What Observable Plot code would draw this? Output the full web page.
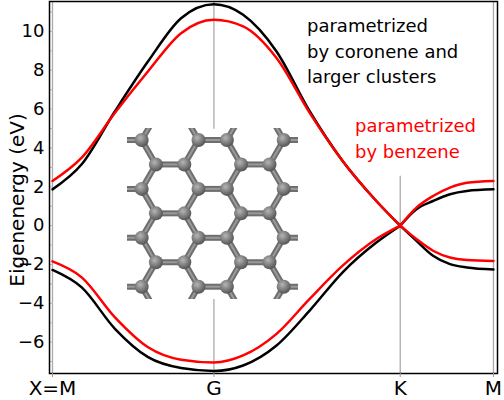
<!DOCTYPE html>
<html><head><meta charset="utf-8">
<script src="https://cdn.jsdelivr.net/npm/d3@7"></script>
<script src="https://cdn.jsdelivr.net/npm/@observablehq/plot@0.6"></script>
<style>body{margin:0;background:#fff}#c{position:relative;width:504px;height:400px}</style>
</head><body><div id="c"></div>
<script>
// k-path coordinate (M=0, G=1.155, K=2.488, M=3.155)
const kMGK = [0, 0.209, 0.447, 0.684, 0.920, 1.155, 1.364, 1.603, 1.840, 2.076, 2.317, 2.488];
const kKM = [2.488, 2.604, 2.723, 2.844, 2.965, 3.155];
const upperBlackMGK = [1.87, 3.16, 5.89, 8.46, 10.68, 11.4, 10.86, 8.97, 5.89, 3.33, 1.27, 0];
const upperRedMGK   = [2.30, 3.50, 5.81, 7.95, 9.91, 10.6, 10.26, 8.63, 5.81, 3.33, 1.27, 0];
const lowerBlackMGK = [-2.28, -3.18, -5.31, -6.77, -7.33, -7.48, -7.2, -6.17, -4.37, -2.4, -0.87, 0];
const lowerRedMGK   = [-1.84, -2.66, -4.72, -6.26, -6.9, -7.04, -6.68, -5.57, -3.77, -2.06, -0.69, 0];
const upperBlackKM = [0, 0.85, 1.27, 1.62, 1.79, 1.87];
const upperRedKM   = [0, 0.93, 1.53, 1.96, 2.21, 2.30];
const lowerBlackKM = [0, -0.78, -1.55, -1.98, -2.15, -2.25];
const lowerRedKM   = [0, -0.69, -1.29, -1.64, -1.77, -1.82];
const symK = [0, 1.155, 2.488, 3.155];
const symLabels = ["X=M", "G", "K", "M"];
const yTicks = [-6, -4, -2, 0, 2, 4, 6, 8, 10];

const rows = [];
function add(ks, es, color, id) { ks.forEach((k, i) => rows.push({k, e: es[i], color, id})); }
add(kMGK, upperBlackMGK, "black", "ub1"); add(kMGK, lowerBlackMGK, "black", "lb1");
add(kKM, upperBlackKM, "black", "ub2"); add(kKM, lowerBlackKM, "black", "lb2");
add(kMGK, upperRedMGK, "red", "ur1"); add(kMGK, lowerRedMGK, "red", "lr1");
add(kKM, upperRedKM, "red", "ur2"); add(kKM, lowerRedKM, "red", "lr2");

const grayRules = [
  {k: symK[0], y1: -7.61, y2: 11.54}, {k: symK[3], y1: -7.61, y2: 11.54},
  {k: symK[1], y1: 4.96, y2: 11.54}, {k: symK[1], y1: -7.61, y2: -3.8},
  {k: symK[2], y1: -7.61, y2: 2.55}
];
const minor = d3.range(-7, 12, 1);

const plot = Plot.plot({
  width: 504, height: 400,
  marginLeft: 49, marginRight: 7, marginTop: 1, marginBottom: 27,
  style: {fontFamily: "DejaVu Sans, sans-serif", fontSize: "18px", background: "white"},
  x: {domain: [-0.0214, 3.184], axis: null},
  y: {domain: [-7.61, 11.54], axis: null},
  marks: [
    Plot.ruleX(grayRules, {x: "k", y1: "y1", y2: "y2", stroke: "#aaa", strokeWidth: 1.3}),
    Plot.ruleY(minor, {y: d => d, x1: -0.0214, x2: 0.004, stroke: "#bbb"}),
    Plot.line(rows, {x: "k", y: "e", z: "id", stroke: d => d.color, strokeWidth: 2.5, curve: "monotone-x"}),
    Plot.frame({stroke: "black", strokeWidth: 1.5}),
    Plot.axisY(yTicks, {tickSize: 0, tickPadding: 5, fontSize: 18, label: null, fill: "black"}),
    Plot.axisX(symK, {tickSize: 4, tickFormat: (d, i) => symLabels[i], fontSize: 20, label: null, tickPadding: 3, stroke: "#999", fill: "black"})
  ]
});
document.getElementById("c").appendChild(plot);
const svg = d3.select(plot);

svg.append("text").attr("transform", "translate(24,200) rotate(-90)").attr("text-anchor", "middle")
  .attr("font-size", 20).attr("font-family", "DejaVu Sans, sans-serif").text("Eigenenergy (eV)");

const blackNote = ["parametrized", "by coronene and", "larger clusters"];
const redNote = ["parametrized", "by benzene"];
blackNote.forEach((t, i) => svg.append("text").attr("x", 307).attr("y", 32 + i * 25.5).attr("text-anchor", "start")
  .attr("font-size", 18).attr("font-family", "DejaVu Sans, sans-serif").attr("fill", "black").text(t));
redNote.forEach((t, i) => svg.append("text").attr("x", 355).attr("y", 132 + i * 25.5).attr("text-anchor", "start")
  .attr("font-size", 18).attr("font-family", "DejaVu Sans, sans-serif").attr("fill", "red").text(t));

// graphene inset (lattice indices: column unit = half bond, row unit = 1)
const x0 = 141.7, ux = 14.2, y0 = 140, uy = 24.45;
const atoms = [];
for (let r = 0; r < 7; r++) {
  const cols = r % 2 === 0 ? [0, 4, 6, 10] : [1, 3, 7, 9];
  cols.forEach(c => atoms.push([c, r]));
}
const bonds = [];
for (let r = 0; r < 7; r++) {
  if (r % 2 === 0) { bonds.push([4, r, 6, r]); bonds.push([0, r, -3, r]); bonds.push([10, r, 13, r]); }
  else { bonds.push([1, r, 3, r]); bonds.push([7, r, 9, r]); }
}
const pairs = [[0, 1], [4, 3], [6, 7], [10, 9]];
for (let r = 0; r < 7; r += 2) {
  pairs.forEach(([a, b]) => {
    if (r + 1 <= 6) bonds.push([a, r, b, r + 1]); else bonds.push([a, r, a + (b - a) * 0.6, r + 0.6]);
    if (r - 1 >= 0) bonds.push([a, r, b, r - 1]); else bonds.push([a, r, a + (b - a) * 0.6, r - 0.6]);
  });
}
const defs = svg.append("defs");
const grad = defs.append("radialGradient").attr("id", "ball").attr("cx", "40%").attr("cy", "35%").attr("r", "65%");
grad.append("stop").attr("offset", "0%").attr("stop-color", "#b5b5b5");
grad.append("stop").attr("offset", "100%").attr("stop-color", "#555");
const clip = defs.append("clipPath").attr("id", "mclip");
clip.append("rect").attr("x", 127).attr("y", 128).attr("width", 171).attr("height", 171);
const mg = svg.append("g").attr("clip-path", "url(#mclip)");
const px = c => x0 + c * ux, py = r => y0 + r * uy;
bonds.forEach(([c1, r1, c2, r2]) => {
  mg.append("line").attr("x1", px(c1)).attr("y1", py(r1)).attr("x2", px(c2)).attr("y2", py(r2))
    .attr("stroke", "#6e6e6e").attr("stroke-width", 6);
  mg.append("line").attr("x1", px(c1)).attr("y1", py(r1)).attr("x2", px(c2)).attr("y2", py(r2))
    .attr("stroke", "#9a9a9a").attr("stroke-width", 2);
});
atoms.forEach(([c, r]) => mg.append("circle").attr("cx", px(c)).attr("cy", py(r)).attr("r", 7).attr("fill", "url(#ball)"));
</script></body></html>
